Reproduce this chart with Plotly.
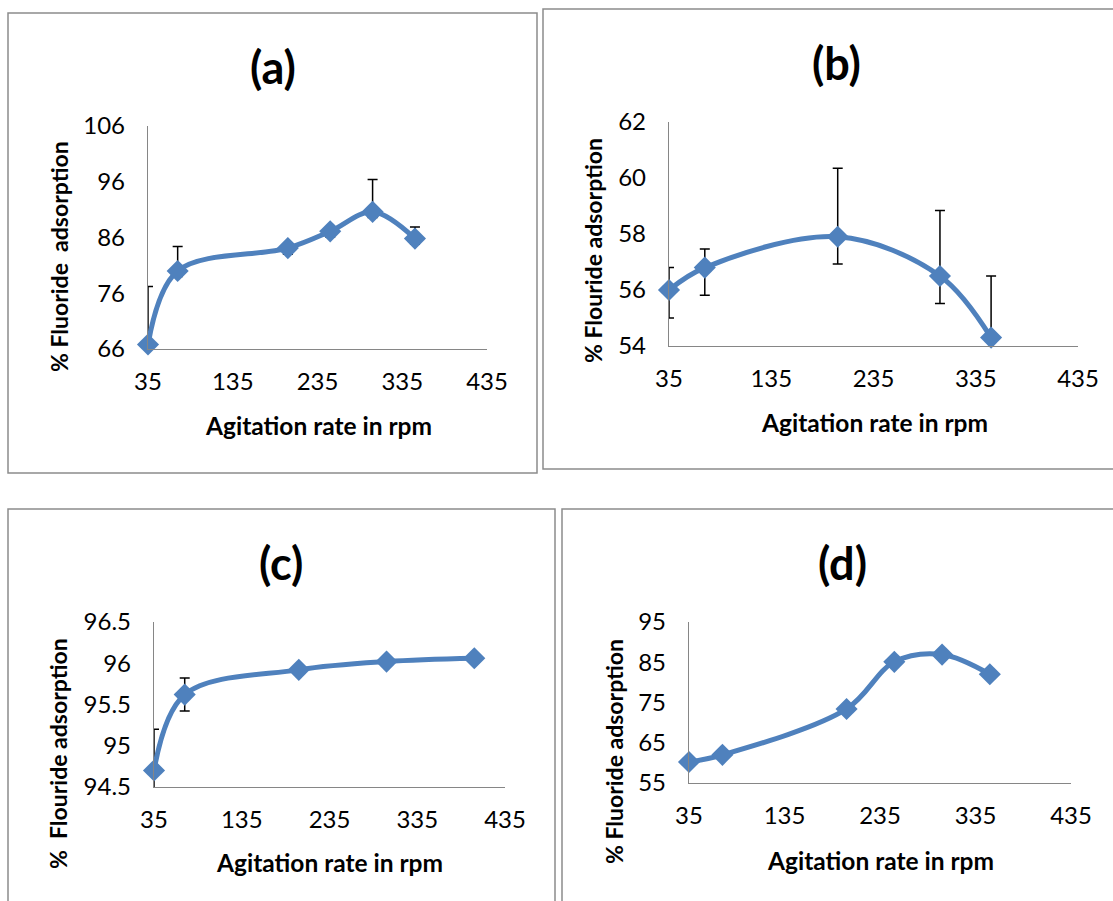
import plotly.graph_objects as go

W, H = 1113, 901

# ---------------- data ----------------
x_a = [35, 70, 200, 250, 300, 350]
y_a = [66.8, 80.0, 84.1, 87.1, 90.6, 85.8]
err_a_plus = [10.4, 4.4, 0.8, 0.6, 5.8, 2.1]
err_a_minus = [1.0, 1.0, 1.1, 1.0, 1.0, 1.0]

x_b = [35, 70, 200, 300, 350]
y_b = [56.0, 56.8, 57.9, 56.5, 54.3]
err_b_plus = [0.8, 0.66, 2.45, 2.34, 2.2]
err_b_minus = [1.0, 0.99, 0.97, 0.98, 1.0]

x_c = [35, 70, 200, 300, 400]
y_c = [94.70, 95.62, 95.92, 96.02, 96.06]
err_c_plus = [0.5, 0.2, 0.0, 0.0, 0.0]
err_c_minus = [0.5, 0.2, 0.0, 0.0, 0.0]

x_d = [35, 70, 200, 250, 300, 350]
y_d = [60.2, 62.0, 73.4, 85.1, 86.9, 82.0]

x_ticks = [35, 135, 235, 335, 435]
y_ticks_a = [66, 76, 86, 96, 106]
y_ticks_b = [54, 56, 58, 60, 62]
y_ticks_c = [94.5, 95, 95.5, 96, 96.5]
y_ticks_d = [55, 65, 75, 85, 95]

panel_titles = ["(a)", "(b)", "(c)", "(d)"]
y_titles = ["% Fluoride\u00a0\u00a0adsorption", "% Flouride adsorption",
            "%\u00a0\u00a0Flouride adsorption", "% Fluoride adsorption"]
x_title = "Agitation rate in rpm"

# ---------------- styling ----------------
FONT = "Lato"
BLUE = "#4f81bd"
AXIS = "#868686"
BORDER = "#8c8c8c"

def px_x(p):
    return p / W

def px_y(p):
    return 1 - p / H

# plot areas in pixels: (left, right, top, bottom)
areas = [(148, 487, 126, 349), (669, 1078, 122, 346),
         (154, 505, 622, 787), (689, 1071, 622, 783)]
yranges = [(66, 106), (54, 62), (94.5, 96.5), (55, 95)]
yticks = [y_ticks_a, y_ticks_b, y_ticks_c, y_ticks_d]
title_pos = [(273, 67), (836, 63), (281, 563), (842, 563)]
xtitle_pos = [(318, 425), (874, 422), (329, 862), (880, 860)]
ytitle_pos = [(59, 257), (593, 251), (58, 754), (614, 752)]
boxes = [(8, 537, 13, 473), (543, 1118, 9, 469), (8, 555, 509, 906), (562, 1118, 509, 906)]

series = [
    (x_a, y_a, err_a_plus, err_a_minus),
    (x_b, y_b, err_b_plus, err_b_minus),
    (x_c, y_c, err_c_plus, err_c_minus),
    (x_d, y_d, None, None),
]

fig = go.Figure()
layout = dict(
    width=W, height=H, margin=dict(l=0, r=0, t=0, b=0, pad=0), autosize=False,
    paper_bgcolor="white", plot_bgcolor="white", showlegend=False,
    font=dict(family=FONT, color="black"),
)
shapes = []
annotations = []

for i, (xs, ys, ep, em) in enumerate(series):
    n = "" if i == 0 else str(i + 1)
    xa, ya = "x" + n, "y" + n
    l, r, t, b = areas[i]
    layout["xaxis" + n] = dict(
        domain=[px_x(l), px_x(r)], range=[35, 435], anchor=ya, automargin=False,
        tickvals=x_ticks, ticktext=[str(v) for v in x_ticks],
        showgrid=False, zeroline=False, showline=True, linecolor=AXIS, linewidth=1.3,
        ticks="", ticklabelstandoff=11, tickfont=dict(family=FONT, size=24, color="black"),
        fixedrange=True,
    )
    layout["yaxis" + n] = dict(
        domain=[px_y(b), px_y(t)], range=list(yranges[i]), anchor=xa, automargin=False,
        tickvals=yticks[i], ticktext=[("%g" % v) for v in yticks[i]],
        showgrid=False, zeroline=False, showline=True, linecolor=AXIS, linewidth=1.3,
        ticks="", ticklabelstandoff=17, tickfont=dict(family=FONT, size=24, color="black"),
        fixedrange=True,
    )
    err = None
    if ep is not None:
        err = dict(type="data", symmetric=False, array=ep, arrayminus=em,
                   color="black", thickness=1.5, width=5, visible=True)
    fig.add_trace(go.Scatter(
        x=xs, y=ys, xaxis=xa, yaxis=ya, mode="lines",
        line=dict(color=BLUE, width=5, shape="spline", smoothing=1.0),
        error_y=err, cliponaxis=True, hoverinfo="skip",
    ))
    fig.add_trace(go.Scatter(
        x=xs, y=ys, xaxis=xa, yaxis=ya, mode="markers",
        marker=dict(symbol="diamond", size=17, color=BLUE, line=dict(width=0)),
        cliponaxis=False,
    ))
    bx0, bx1, by0, by1 = boxes[i]
    shapes.append(dict(type="rect", xref="paper", yref="paper",
                       x0=px_x(bx0), x1=px_x(bx1), y0=px_y(by1), y1=px_y(by0),
                       line=dict(color=BORDER, width=1.5), layer="below"))
    tx, ty = title_pos[i]
    annotations.append(dict(text="<b>%s</b>" % panel_titles[i], xref="paper", yref="paper",
                            x=px_x(tx), y=px_y(ty), xanchor="center", yanchor="middle",
                            showarrow=False, font=dict(family=FONT, size=45, color="black")))
    xx, xy = xtitle_pos[i]
    annotations.append(dict(text="<b>%s</b>" % x_title, xref="paper", yref="paper",
                            x=px_x(xx), y=px_y(xy), xanchor="center", yanchor="middle",
                            showarrow=False, font=dict(family=FONT, size=24.5, color="black")))
    yx, yy = ytitle_pos[i]
    annotations.append(dict(text="<b>%s</b>" % y_titles[i], xref="paper", yref="paper",
                            x=px_x(yx), y=px_y(yy), xanchor="center", yanchor="middle",
                            textangle=-90, showarrow=False,
                            font=dict(family=FONT, size=23, color="black")))

layout["shapes"] = shapes
layout["annotations"] = annotations
fig.update_layout(**layout)
fig.write_html("out.html", post_script="document.body.style.margin='0';")
